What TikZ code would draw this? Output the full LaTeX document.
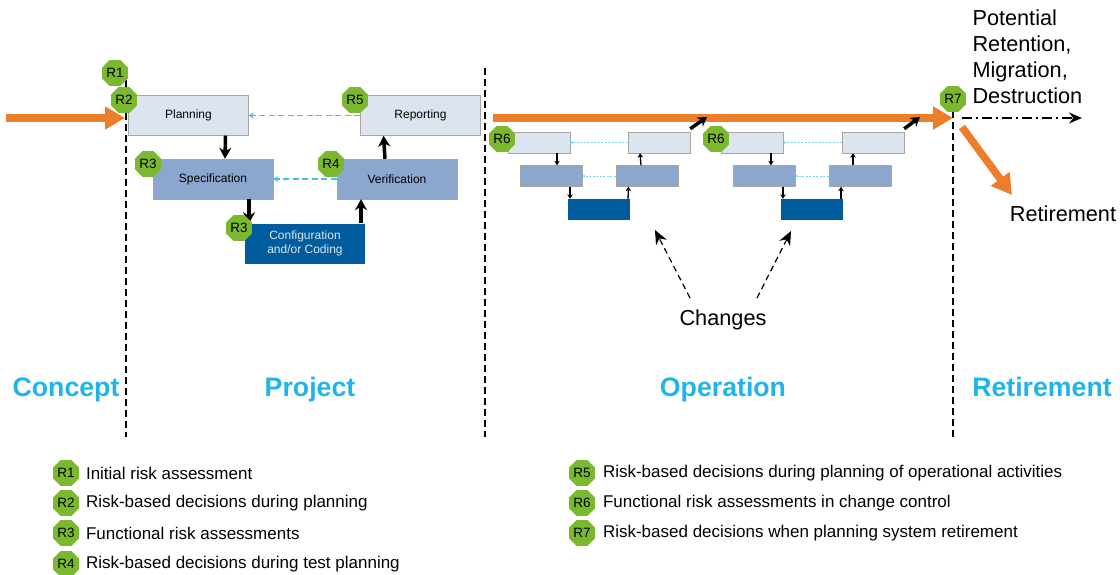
\documentclass[tikz,border=0pt]{standalone}
\usepackage{fontspec}
\setmainfont{Liberation Sans}
\usetikzlibrary{shapes.geometric,arrows.meta}
\definecolor{riskgreen}{HTML}{7AB82E}
\definecolor{flowblue}{HTML}{1FB4EC}
\definecolor{flowlight}{HTML}{DCE4F0}
\definecolor{flowmid}{HTML}{8BA7CE}
\definecolor{flowdark}{HTML}{005C9C}
\definecolor{floworange}{HTML}{EE7D2A}
\tikzset{
  risk/.style={regular polygon,regular polygon sides=8,fill=riskgreen,inner sep=0pt,minimum size=28pt,font=\fontsize{13.5}{13.5}\selectfont},
  lightbox/.style={draw=black!35,fill=flowlight,minimum width=120pt,minimum height=40pt,inner sep=0pt,font=\fontsize{12}{14}\selectfont},
  midbox/.style={lightbox,fill=flowmid},
  darkbox/.style={lightbox,draw=none,fill=flowdark,text=white!85!flowdark,align=center},
  smalllight/.style={lightbox,minimum width=62pt,minimum height=21pt},
  smallmid/.style={midbox,minimum width=62pt,minimum height=21pt},
  smalldark/.style={darkbox,minimum width=62pt,minimum height=21pt},
  phase/.style={anchor=base,text=flowblue,font=\fontsize{26.7}{30}\selectfont\bfseries},
  note/.style={anchor=west,font=\fontsize{17}{20}\selectfont},
  big/.style={font=\fontsize{21.7}{26}\selectfont},
  stage/.style={black,line width=1.5pt,dash pattern=on 7pt off 4pt},
  step arrow/.style={-{Stealth[length=11pt,width=12pt]},line width=3.5pt},
  tiny arrow/.style={-{Stealth[length=4.5pt,width=5.5pt]},line width=1.3pt},
  back arrow/.style={-{Stealth[length=5pt,width=6pt]},flowblue!85,line width=1.4pt,dash pattern=on 6pt off 3.5pt},
  faint arrow/.style={-{Stealth[length=2.5pt,width=3pt]},flowblue!60,line width=.9pt,dash pattern=on 2pt off 1.5pt},
  main arrow/.style={-{Triangle[length=20pt,width=22pt]},floworange,line width=7.5pt},
  cross arrow/.style={-{Stealth[length=9pt,width=11pt]},line width=3.5pt},
  change arrow/.style={-{Stealth[length=14pt,width=12pt]},line width=1.2pt,dash pattern=on 6pt off 4pt},
}
\begin{document}
\begin{tikzpicture}[x=1pt,y=-1pt]
\useasboundingbox (0,0) rectangle (1120,575);

% stage borders
\coordinate (concepttop) at (126,80);
\coordinate (conceptend) at (126,437);
\coordinate (projecttop) at (485,68);
\coordinate (projectend) at (485,437);
\coordinate (retiretop) at (953,100);
\coordinate (retireend) at (953,437);
\draw[stage] (concepttop) -- (conceptend);
\draw[stage] (projecttop) -- (projectend);
\draw[stage] (retiretop) -- (retireend);

% project boxes
\node[lightbox] (planning) at (188.5,115.5) {Planning};
\node[lightbox] (reporting) at (420.5,115.5) {Reporting};
\node[midbox] (specification) at (213,179) {Specification};
\node[midbox] (verification) at (397,179) {Verification};
\node[darkbox] (coding) at (305,243.5) {Configuration\\and/or Coding};

\draw[step arrow] ([xshift=37pt]planning.south) -- ([xshift=12pt]specification.north);
\draw[step arrow] ([xshift=36pt]specification.south) -- ([xshift=-56pt]coding.north);
\draw[step arrow] ([xshift=56pt]coding.north) -- ([xshift=-36pt]verification.south);
\draw[step arrow] ([xshift=-12pt]verification.north) -- ([xshift=-37pt]reporting.south);
\draw[back arrow] (reporting.west) -- (planning.east);
\draw[back arrow] (verification.west) -- (specification.east);

% first change
\node[smalllight] (plana) at (539,142.5) {};
\node[smalllight] (reporta) at (659,142.5) {};
\node[smallmid] (speca) at (551.5,176) {};
\node[smallmid] (verifya) at (647,176) {};
\node[smalldark] (codea) at (599,209.5) {};
\draw[tiny arrow] ([xshift=18pt]plana.south) -- ([xshift=5.5pt]speca.north);
\draw[tiny arrow] ([xshift=18.5pt]speca.south) -- ([xshift=-29pt]codea.north);
\draw[tiny arrow] ([xshift=29pt]codea.north) -- ([xshift=-18.5pt]verifya.south);
\draw[tiny arrow] ([xshift=-6pt]verifya.north) -- ([xshift=-19pt]reporta.south);
\draw[faint arrow] (reporta.west) -- (plana.east);
\draw[faint arrow] (verifya.west) -- (speca.east);

% second change
\node[smalllight] (planb) at (752,142.5) {};
\node[smalllight] (reportb) at (873,142.5) {};
\node[smallmid] (specb) at (764,176) {};
\node[smallmid] (verifyb) at (860,176) {};
\node[smalldark] (codeb) at (812,209.5) {};
\draw[tiny arrow] ([xshift=19pt]planb.south) -- ([xshift=7pt]specb.north);
\draw[tiny arrow] ([xshift=19pt]specb.south) -- ([xshift=-29pt]codeb.north);
\draw[tiny arrow] ([xshift=29pt]codeb.north) -- ([xshift=-19pt]verifyb.south);
\draw[tiny arrow] ([xshift=-7pt]verifyb.north) -- ([xshift=-20pt]reportb.south);
\draw[faint arrow] (reportb.west) -- (planb.east);
\draw[faint arrow] (verifyb.west) -- (specb.east);

% orange flow
\coordinate (startin) at (6,118);
\coordinate (startend) at (125,118);
\coordinate (runin) at (493,118);
\coordinate (runend) at (953,118);
\coordinate (outa) at (962,127);
\coordinate (outb) at (1012,195);
\coordinate (keepa) at (962,118);
\coordinate (keepb) at (1082,118);
\draw[main arrow] (startin) -- (startend);
\draw[main arrow] (runin) -- (runend);
\draw[main arrow] (outa) -- (outb);
\draw[-{Stealth[length=13pt,width=11pt]},line width=1.5pt,dash pattern=on 10pt off 4pt on 2pt off 4pt] (keepa) -- (keepb);

% back into operation
\coordinate (tipa) at (707,117);
\coordinate (tipb) at (920,117);
\draw[cross arrow] ([yshift=3pt]reporta.north east) -- (tipa);
\draw[cross arrow] ([yshift=3pt]reportb.north east) -- (tipb);

% changes
\node[big] (changes) at (723,320) {Changes};
\coordinate (changea) at (655,230);
\coordinate (changeb) at (791,231);
\coordinate (fromchangea) at (690,298);
\coordinate (fromchangeb) at (757,298);
\draw[change arrow] (fromchangea) -- (changea);
\draw[change arrow] (fromchangeb) -- (changeb);

% risk marks
\node[risk] (rone) at (115,73) {R1};
\node[risk] (rtwo) at (124,100) {R2};
\node[risk] (rthree) at (148,164) {R3};
\node[risk] (rthreeb) at (239,228) {R3};
\node[risk] (rfour) at (331,164) {R4};
\node[risk] (rfive) at (355,100) {R5};
\node[risk] (rsixa) at (502,139) {R6};
\node[risk] (rsixb) at (716,139) {R6};
\node[risk] (rseven) at (953,99) {R7};

% side labels
\node[big,anchor=west,align=left] (fates) at (969,57) {Potential\\Retention,\\Migration,\\Destruction};
\node[big] (retired) at (1063,214) {Retirement};

% phases
\node[phase] (concept) at (66,396) {Concept};
\node[phase] (project) at (310,396) {Project};
\node[phase] (operation) at (723,396) {Operation};
\node[phase] (retirement) at (1042,396) {Retirement};

% legend
\node[risk] (lone) at (66,473) {R1};
\node[risk] (ltwo) at (66,503) {R2};
\node[risk] (lthree) at (66,533) {R3};
\node[risk] (lfour) at (66,564) {R4};
\node[risk] (lfive) at (582,473) {R5};
\node[risk] (lsix) at (582,503) {R6};
\node[risk] (lseven) at (582,533) {R7};
\node[note] at (82.5,473) {Initial risk assessment};
\node[note] at (82.5,503) {Risk-based decisions during planning};
\node[note] at (82.5,533) {Functional risk assessments};
\node[note] at (82.5,564) {Risk-based decisions during test planning};
\node[note] at (599.5,473) {Risk-based decisions during planning of operational activities};
\node[note] at (599.5,503) {Functional risk assessments in change control};
\node[note] at (599.5,533) {Risk-based decisions when planning system retirement};
\end{tikzpicture}
\end{document}
